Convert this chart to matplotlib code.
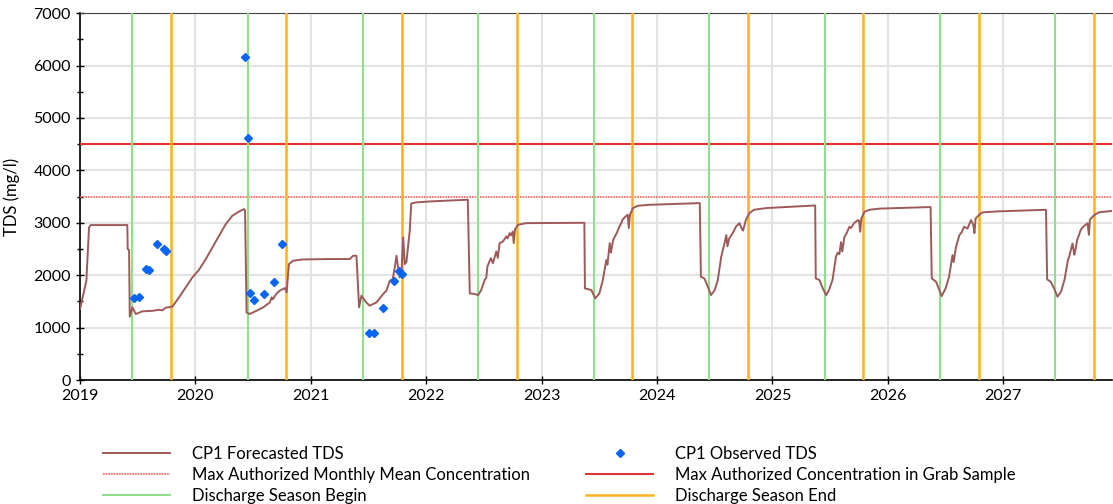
import numpy as np
import matplotlib.pyplot as plt
from matplotlib.ticker import MultipleLocator

plt.rcParams['font.family'] = ['Lato', 'DejaVu Sans']

# Forecasted TDS (decimal year, mg/l)
fc_year = [2019.000, 2019.055, 2019.078, 2019.092, 2019.410, 2019.413, 2019.425, 2019.431,
           2019.454, 2019.483, 2019.540, 2019.627, 2019.685, 2019.714, 2019.743, 2019.800,
           2019.858, 2019.916, 2019.974, 2020.030, 2020.090, 2020.147, 2020.205, 2020.263,
           2020.320, 2020.380, 2020.420, 2020.430, 2020.443,
           2020.470, 2020.530, 2020.587, 2020.645, 2020.660, 2020.670, 2020.700, 2020.730,
           2020.775, 2020.790, 2020.810, 2020.847, 2020.930, 2021.165, 2021.338, 2021.366,
           2021.395, 2021.418, 2021.438, 2021.480, 2021.510, 2021.569, 2021.626, 2021.655,
           2021.684, 2021.710, 2021.727, 2021.742, 2021.756, 2021.770, 2021.785, 2021.800,
           2021.814, 2021.828, 2021.857, 2021.870, 2021.915, 2022.030, 2022.360,
           2022.377, 2022.420, 2022.450, 2022.476, 2022.506, 2022.520, 2022.530, 2022.560,
           2022.578, 2022.607, 2022.620, 2022.636, 2022.665, 2022.694, 2022.705, 2022.723,
           2022.735, 2022.750, 2022.758, 2022.770, 2022.795, 2022.867, 2023.370,
           2023.375, 2023.430, 2023.465, 2023.500, 2023.530, 2023.560, 2023.570, 2023.590,
           2023.600, 2023.620, 2023.650, 2023.675, 2023.690, 2023.700, 2023.727, 2023.746,
           2023.755, 2023.765, 2023.790, 2023.834, 2023.935, 2024.370,
           2024.380, 2024.410, 2024.440, 2024.467, 2024.500, 2024.526, 2024.556, 2024.584,
           2024.600, 2024.610, 2024.625, 2024.656, 2024.685, 2024.714, 2024.735, 2024.745,
           2024.770, 2024.800, 2024.840, 2024.945, 2025.370,
           2025.375, 2025.407, 2025.436, 2025.465, 2025.490, 2025.520, 2025.550, 2025.565,
           2025.580, 2025.594, 2025.605, 2025.623, 2025.640, 2025.667, 2025.680, 2025.710,
           2025.740, 2025.750, 2025.760, 2025.770, 2025.797, 2025.840, 2025.930, 2026.370,
           2026.380, 2026.417, 2026.446, 2026.466, 2026.500, 2026.530, 2026.560, 2026.570,
           2026.590, 2026.620, 2026.640, 2026.660, 2026.690, 2026.720, 2026.740, 2026.750,
           2026.760, 2026.790, 2026.820, 2026.940, 2027.370,
           2027.380, 2027.410, 2027.440, 2027.470, 2027.500, 2027.530, 2027.560, 2027.570,
           2027.600, 2027.615, 2027.625, 2027.640, 2027.655, 2027.670, 2027.690, 2027.730,
           2027.742, 2027.750, 2027.790, 2027.830, 2027.940]
fc_tds = [1354, 1894, 2912, 2956, 2956, 2500, 2480, 1208,
          1386, 1259, 1310, 1320, 1340, 1330, 1380, 1400,
          1577, 1767, 1958, 2100, 2308, 2530, 2753, 2975,
          3134, 3217, 3261, 3240, 1290,
          1259, 1322, 1386, 1481, 1577, 1540, 1640, 1704,
          1755, 1672, 2212, 2276, 2300, 2308, 2308, 2371,
          2371, 1386, 1608, 1481, 1418, 1481, 1640, 1704,
          1894, 1926, 2149, 2371, 2149, 1958, 2050, 2721,
          2212, 2250, 2848, 3369, 3389, 3407, 3440,
          1653, 1640, 1620, 1717, 1907, 1950, 2167, 2326,
          2230, 2453, 2330, 2613, 2644, 2740, 2700, 2803,
          2760, 2835, 2613, 2880, 2961, 2993, 3000,
          1748, 1717, 1558, 1653, 1907, 2288, 2200, 2612,
          2430, 2676, 2803, 2930, 2993, 3057, 3120, 3152,
          2898, 3150, 3279, 3324, 3343, 3375,
          1970, 1938, 1780, 1620, 1717, 1907, 2352, 2605,
          2765, 2550, 2700, 2803, 2930, 2993, 2880, 2850,
          3057, 3184, 3248, 3280, 3330,
          1939, 1907, 1748, 1620, 1717, 1907, 2352, 2430,
          2400, 2630, 2450, 2725, 2790, 2924, 2900, 3000,
          3050, 3040, 2828, 3080, 3208, 3248, 3270, 3300,
          1939, 1875, 1717, 1600, 1748, 1970, 2383, 2250,
          2541, 2765, 2820, 2924, 2890, 3050, 2960, 2803,
          3080, 3152, 3198, 3216, 3248,
          1920, 1875, 1748, 1590, 1685, 1907, 2290, 2350,
          2605, 2390, 2480, 2670, 2760, 2860, 2920, 2990,
          2770, 3060, 3150, 3200, 3225]

# Observed TDS samples
obs_year = [2019.468, 2019.510, 2019.570, 2019.598, 2019.670, 2019.728, 2019.749,
            2020.430, 2020.454, 2020.474, 2020.506, 2020.590, 2020.680, 2020.750,
            2021.505, 2021.548, 2021.626, 2021.720, 2021.765, 2021.794]
obs_tds = [1558, 1577, 2117, 2098, 2594, 2498, 2454,
           6154, 4609, 1659, 1526, 1647, 1875, 2594,
           890, 903, 1367, 1882, 2072, 2022]

monthly_mean_limit = 3500
grab_sample_limit = 4500

season_begin = [2019.452, 2020.452, 2021.452, 2022.452, 2023.452, 2024.452, 2025.452, 2026.452, 2027.452]
season_end = [2019.786, 2020.786, 2021.786, 2022.786, 2023.786, 2024.786, 2025.786, 2026.786, 2027.786]
years = list(range(2019, 2028))

fig = plt.figure(figsize=(11.13, 5.04), dpi=100)
ax = fig.add_axes([0.0719, 0.246, 0.927, 0.728])

ax.set_axisbelow(True)
ax.grid(True, color='#e3e3e3', linewidth=1.5)

l_fc, = ax.plot(fc_year, fc_tds, color='#9c5a5a', linewidth=1.4, zorder=4, label='CP1 Forecasted TDS')
l_obs, = ax.plot(obs_year, obs_tds, linestyle='none', marker='D', markersize=4, color='#0a64f5',
                 zorder=5, label='CP1 Observed TDS')
l_mm = ax.axhline(monthly_mean_limit, color='#f06060', linestyle=(0, (1, 0.6)), linewidth=1.2,
                  zorder=3, label='Max Authorized Monthly Mean Concentration')
l_gs = ax.axhline(grab_sample_limit, color='#e03535', linewidth=1.5, zorder=3,
                  label='Max Authorized Concentration in Grab Sample')
begin_lines = [ax.axvline(x, color='#8fe08a', linewidth=1.5, zorder=3) for x in season_begin]
end_lines = [ax.axvline(x, color='#ffb020', linewidth=1.8, zorder=3) for x in season_end]
begin_lines[0].set_label('Discharge Season Begin')
end_lines[0].set_label('Discharge Season End')

ax.set_xlim(2019, 2027.94)
ax.set_ylim(0, 7000)
ax.set_xticks(years)
ax.set_xticklabels([str(y) for y in years])
ax.yaxis.set_major_locator(MultipleLocator(1000))
ax.yaxis.set_minor_locator(MultipleLocator(500))
ax.tick_params(axis='both', which='major', labelsize=11.5, direction='inout', length=6, width=1)
ax.tick_params(axis='y', which='minor', direction='inout', length=4, width=1)
ax.set_ylabel('TDS (mg/l)', fontsize=12)
ax.yaxis.set_label_coords(-0.058, 0.5)

for s in ['left', 'bottom']:
    ax.spines[s].set_color('black')
    ax.spines[s].set_linewidth(1.2)
ax.spines['top'].set_color('#444444')
ax.spines['right'].set_visible(False)

handles = [l_fc, l_mm, begin_lines[0], l_obs, l_gs, end_lines[0]]
labels = [h.get_label() for h in handles]
fig.legend(handles, labels, ncol=2, loc='upper left', bbox_to_anchor=(0.087, 0.128),
           frameon=False, fontsize=12, handlelength=4.0, handletextpad=1.3,
           columnspacing=3.4, labelspacing=0.3, borderaxespad=0)

fig.savefig('out.png', dpi=100)
